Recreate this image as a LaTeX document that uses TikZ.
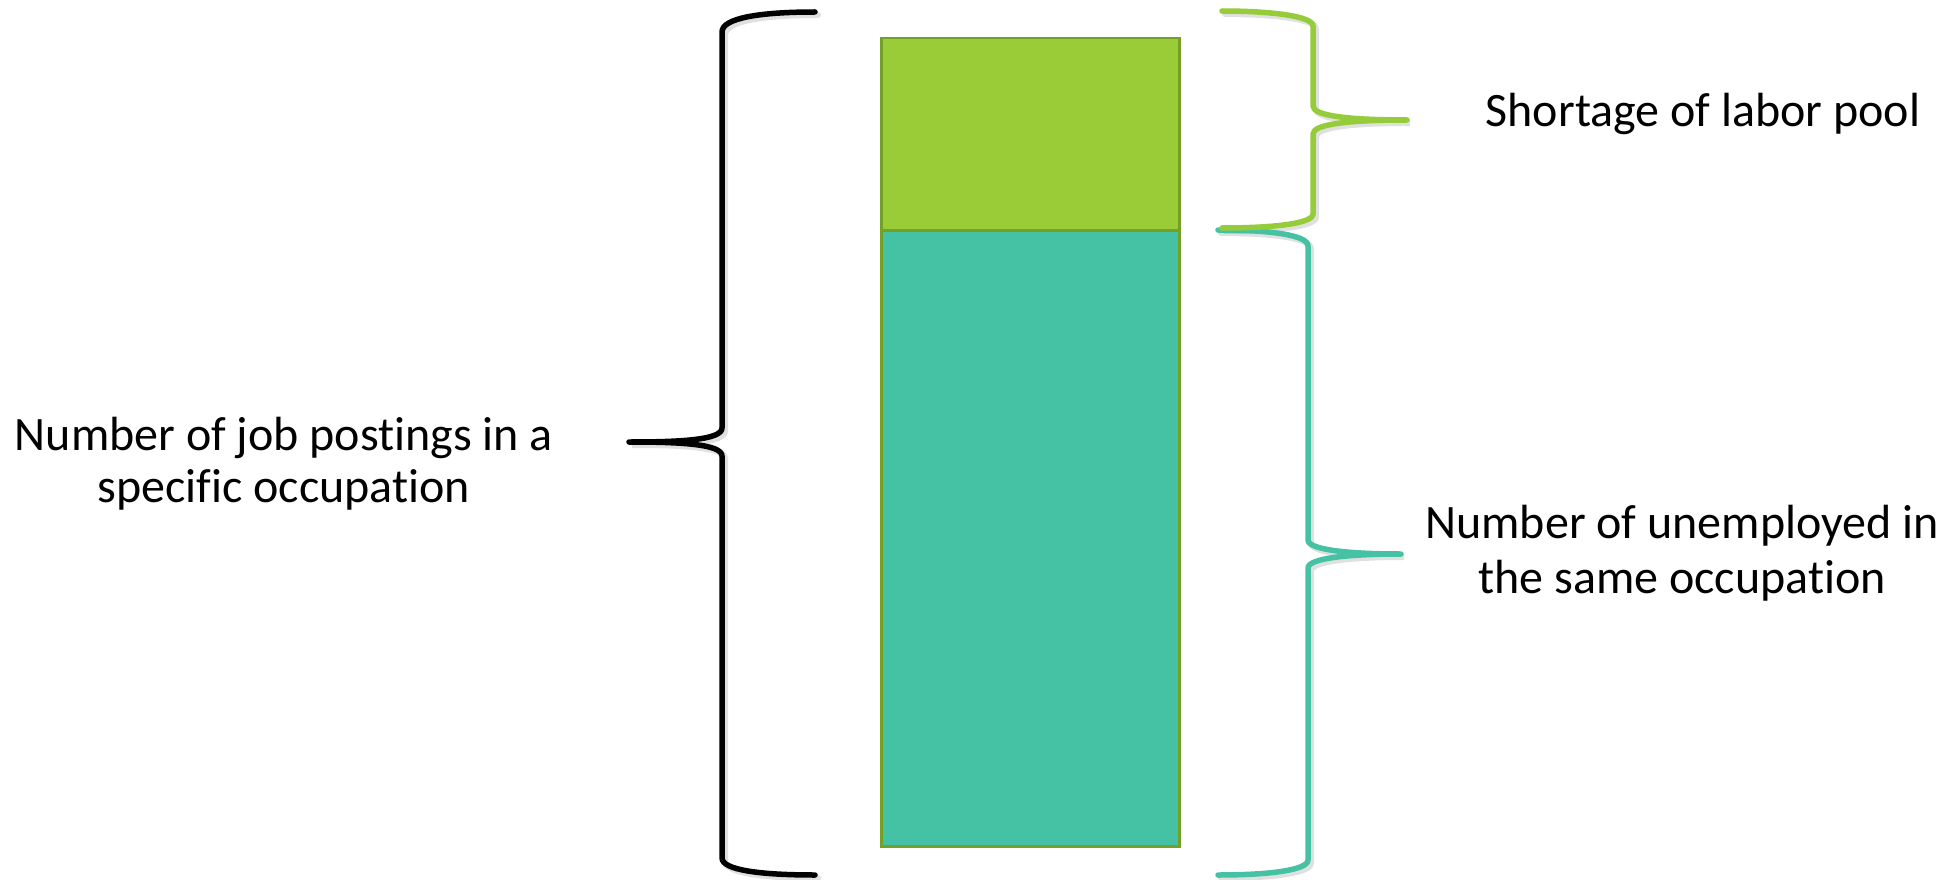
\documentclass[tikz,border=0pt]{standalone}
\usepackage{fontspec}
\setmainfont{Carlito}[RawFeature=-liga]
\definecolor{lgreen}{HTML}{9ACC38}
\definecolor{bgreen}{HTML}{96CB3A}
\definecolor{teal}{HTML}{45C2A4}
\definecolor{edge}{HTML}{74A02A}
\tikzset{
  bar/.style={draw=edge, line width=2.5pt, inner sep=0pt, anchor=north west},
  brace/.style={line width=5.5pt, line cap=round, line join=round},
  shade/.style={line width=6pt, draw=black, opacity=0.12, line cap=round},
  lbl/.style={font=\fontsize{48}{51}\selectfont, align=center}
}
\begin{document}
\begin{tikzpicture}[x=1pt,y=-1pt]
\useasboundingbox (0,0) rectangle (1952,880);
% bars
\node[bar, fill=lgreen, minimum width=298pt, minimum height=192pt] (top) at (880,37) {};
\node[bar, fill=teal, minimum width=298pt, minimum height=616pt] (bot) at (880,229) {};
% shadows
\begin{scope}[shift={(3,3)}]
\draw[shade] (815,12) .. controls (760,12) and (722,18) .. (722,32) -- (722,428) .. controls (722,440) and (680,442) .. (629,442) .. controls (680,442) and (722,444) .. (722,456) -- (722,858) .. controls (722,870) and (760,875) .. (815,875);
\draw[shade] (1222,11) .. controls (1270,11) and (1313,16) .. (1313,26) -- (1313,106) .. controls (1313,116) and (1350,120) .. (1407,120) .. controls (1350,120) and (1313,124) .. (1313,134) -- (1313,214) .. controls (1313,224) and (1270,228) .. (1222,228);
\draw[shade] (1218,230) .. controls (1270,230) and (1308,235) .. (1308,246) -- (1308,540) .. controls (1308,550) and (1350,554) .. (1401,554) .. controls (1350,554) and (1308,558) .. (1308,568) -- (1308,860) .. controls (1308,870) and (1270,875) .. (1218,875);
\end{scope}
% braces
\draw[brace, draw=black] (815,12) .. controls (760,12) and (722,18) .. (722,32) -- (722,428) .. controls (722,440) and (680,442) .. (629,442) .. controls (680,442) and (722,444) .. (722,456) -- (722,858) .. controls (722,870) and (760,875) .. (815,875);
\draw[brace, draw=teal] (1218,230) .. controls (1270,230) and (1308,235) .. (1308,246) -- (1308,540) .. controls (1308,550) and (1350,554) .. (1401,554) .. controls (1350,554) and (1308,558) .. (1308,568) -- (1308,860) .. controls (1308,870) and (1270,875) .. (1218,875);
\draw[brace, draw=bgreen] (1222,11) .. controls (1270,11) and (1313,16) .. (1313,26) -- (1313,106) .. controls (1313,116) and (1350,120) .. (1407,120) .. controls (1350,120) and (1313,124) .. (1313,134) -- (1313,214) .. controls (1313,224) and (1270,228) .. (1222,228);
% labels
\node[lbl] (short) at (1703,114) {Shortage of labor pool};
\node[lbl] (unemp) at (1682,553) {Number of unemployed in\\[4pt]the same occupation};
\node[lbl] (jobs) at (284,464) {Number of job postings in a\\[1pt]specific occupation};
\end{tikzpicture}
\end{document}
